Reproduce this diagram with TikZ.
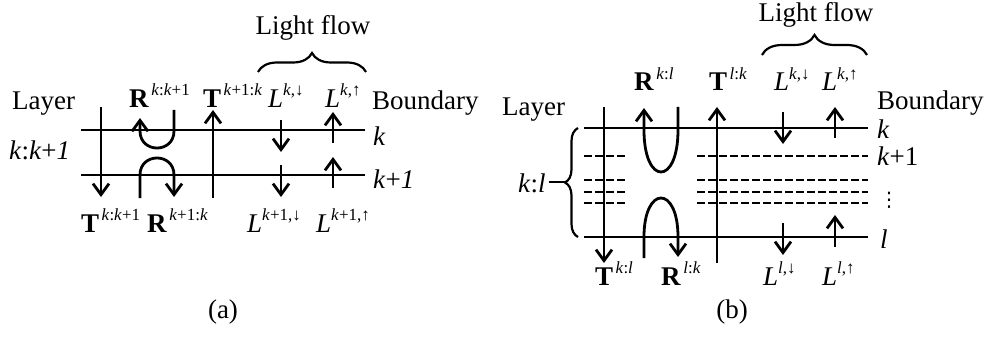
\documentclass[tikz,border=0pt]{standalone}
\usepackage{fontspec}
\setmainfont{Liberation Serif}
\newfontfamily\djv{DejaVu Sans}
\usetikzlibrary{arrows.meta,decorations.pathreplacing}
\newcommand{\supx}[1]{\raisebox{11.5pt}{\fontsize{17}{17}\selectfont #1}}
\newcommand{\supb}[1]{\hspace{2.5pt}\supx{#1}}
\newcommand{\ik}{\textit{k}}
\newcommand{\il}{\textit{l}}
\begin{document}
\begin{tikzpicture}[x=1pt,y=-1pt, font=\fontsize{27}{31}\selectfont,
  lbl/.style={anchor=base west, inner sep=0pt},
  ctr/.style={anchor=base, inner sep=0pt},
  bline/.style={line width=2.8pt},
  arr/.style={line width=2.8pt, -{Straight Barb[length=11pt,width=16pt,line width=2.8pt]}},
  dline/.style={line width=2.8pt, dash pattern=on 8pt off 3pt},
  brc/.style={decorate, decoration={brace, amplitude=#1}, line width=2.2pt}]
\useasboundingbox (0,0) rectangle (989,337);

% ---------------- panel (a) ----------------
\draw[bline] (81,130) -- (365,130);
\draw[bline] (81,175) -- (365,175);
\draw[arr] (101,107) -- (101,197);
\draw[arr] (174,110) -- (174,131) .. controls (174,153.7) and (140,153.7) .. (140,131) -- (140,118);
\draw[arr] (140,198) -- (140,175) .. controls (140,152.3) and (174,152.3) .. (174,175) -- (174,197);
\draw[arr] (213,198) -- (213,110);
\draw[arr] (281,120) -- (281,152);
\draw[arr] (281,165) -- (281,197);
\draw[arr] (333,143) -- (333,112);
\draw[arr] (333,188) -- (333,157);

\node[lbl] (layA) at (12,110) {Layer};
\node[lbl] (kkA) at (9,160) {\ik:\ik+\textit{1}};
\node[lbl] (bdA) at (372,110) {Boundary};
\node[lbl] (bkA) at (373,146) {\ik};
\node[lbl] (bk1A) at (373,188) {\ik+\textit{1}};
\node[lbl] (RtA) at (129,107) {\textbf{R}\supb{\ik:\ik+1}};
\node[lbl] (TtA) at (203,107) {\textbf{T}\supb{\ik+1:\ik}};
\node[lbl] (LdA) at (268,107) {\textit{L}\supx{\ik,↓}};
\node[lbl] (LuA) at (325,107) {\textit{L}\supx{\ik,↑}};
\node[lbl] (TbA) at (81,232) {\textbf{T}\supb{\ik:\ik+1}};
\node[lbl] (RbA) at (147,232) {\textbf{R}\supb{\ik+1:\ik}};
\node[lbl] (LdbA) at (247,232) {\textit{L}\supx{\ik+1,↓}};
\node[lbl] (LubA) at (316,232) {\textit{L}\supx{\ik+1,↑}};
\draw[brc=19pt] (258,72) -- (366,72);
\node[ctr] (lfA) at (313,35) {Light flow};
\node[ctr] (capA) at (223,318) {(a)};

% ---------------- panel (b) ----------------
\draw[bline] (584,128) -- (868,128);
\draw[bline] (584,237) -- (868,237);
\foreach \yy in {156,180,192,203} {
  \draw[dline] (584,\yy) -- (627,\yy);
  \draw[dline] (697,\yy) -- (868,\yy);
}
\draw[arr] (604,107) -- (604,263);
\draw[arr] (678,107) -- (678,130) .. controls (678,186) and (644,186) .. (644,130) -- (644,108);
\draw[arr] (644,258) -- (644,237) .. controls (644,185) and (678,185) .. (678,237) -- (678,257);
\draw[arr] (717,263) -- (717,107);
\draw[arr] (783,112) -- (783,144);
\draw[arr] (835,138) -- (835,107);
\draw[arr] (783,223) -- (783,255);
\draw[arr] (835,247) -- (835,215);

\draw[brc=20pt] (762,55) -- (867,55);
\node[ctr] (lfB) at (816,22) {Light flow};
\draw[brc=13pt] (578,237) -- (578,128);
\coordinate (tipB) at (565,182);
\node[lbl] (klB) at (518,192) {\ik:\il};
\draw[line width=2.2pt] (klB.east |- tipB) ++(3,0) -- (tipB);

\node[lbl] (layB) at (502,115) {Layer};
\node[lbl] (bdB) at (877,110) {Boundary};
\node[lbl] (bkB) at (877,139) {\ik};
\node[lbl] (bk1B) at (877,165) {\ik+1};
\node[inner sep=0pt, font=\djv\fontsize{20}{20}\selectfont] (dotsB) at (889,200) {⋮};
\node[lbl] (blB) at (880,248) {\il};
\node[lbl] (RtB) at (634,91) {\textbf{R}\supb{\ik:\il}};
\node[lbl] (TtB) at (709,91) {\textbf{T}\supb{\il:\ik}};
\node[lbl] (LdB) at (774,91) {\textit{L}\supx{\ik,↓}};
\node[lbl] (LuB) at (822,91) {\textit{L}\supx{\ik,↑}};
\node[lbl] (TbB) at (595,285) {\textbf{T}\supb{\ik:\il}};
\node[lbl] (RbB) at (661,285) {\textbf{R}\supb{\il:\ik}};
\node[lbl] (LdbB) at (763,285) {\textit{L}\supx{\il,↓}};
\node[lbl] (LubB) at (822,285) {\textit{L}\supx{\il,↑}};
\node[ctr] (capB) at (732,318) {(b)};
\end{tikzpicture}
\end{document}
